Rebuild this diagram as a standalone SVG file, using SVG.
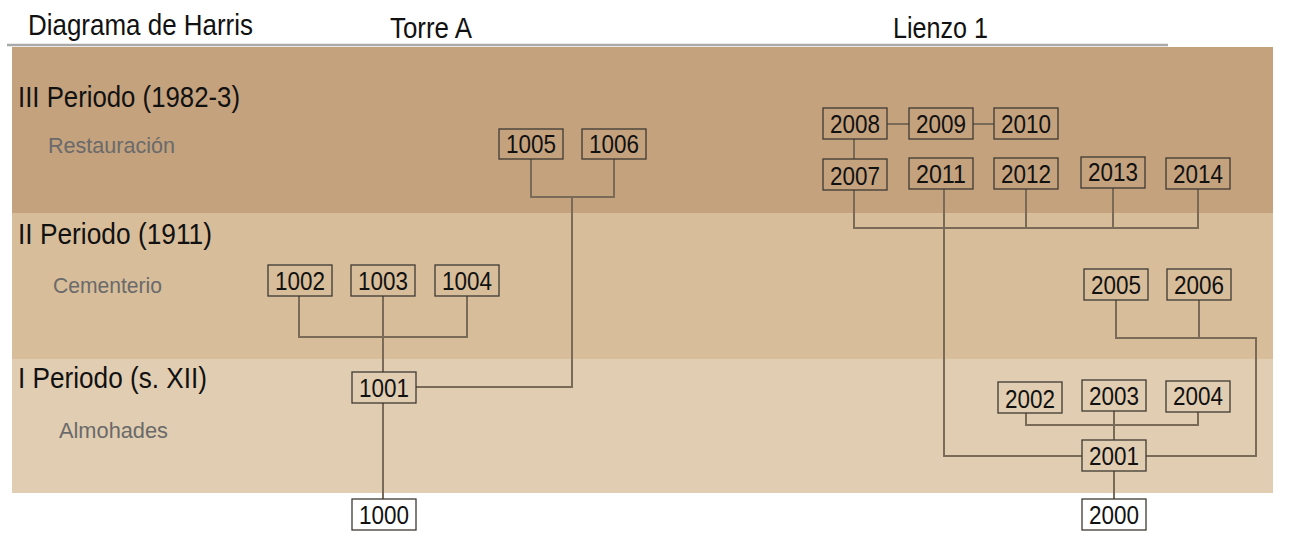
<svg xmlns="http://www.w3.org/2000/svg" width="1290" height="535" viewBox="0 0 1290 535">
<style>
.hdr{font-family:"Liberation Sans",Arial,sans-serif;font-size:29px;fill:#111}
.per{font-family:"Liberation Sans",Arial,sans-serif;font-size:29px;fill:#111}
.sub{font-family:"Liberation Sans",Arial,sans-serif;font-size:22px;fill:#6a6a6a}
.box{fill:none;stroke:#3e3a33;stroke-width:1.3}
.wbox{fill:#fff;stroke:#3e3a33;stroke-width:1.3}
.lbl{font-family:"Liberation Sans",Arial,sans-serif;font-size:26px;fill:#111;text-anchor:middle}
.con{fill:none;stroke:#7a6b58;stroke-width:2}
</style>
<rect width="1290" height="535" fill="#fff"/>
<g id="bands">
<rect x="12" y="47" width="1261" height="166" fill="#c4a27e"/>
<rect x="12" y="213" width="1261" height="146" fill="#d7bd9a"/>
<rect x="12" y="359" width="1261" height="134" fill="#e1cdb1"/>
<line x1="7" y1="45" x2="1168" y2="45" stroke="#a9a9a9" stroke-width="2.5"/>
</g>
<g id="labels">
<text class="hdr" x="28" y="35" textLength="225" lengthAdjust="spacingAndGlyphs">Diagrama de Harris</text>
<text class="hdr" x="390" y="38" textLength="82" lengthAdjust="spacingAndGlyphs">Torre A</text>
<text class="hdr" x="893" y="38" textLength="95" lengthAdjust="spacingAndGlyphs">Lienzo 1</text>
<text class="per" x="18" y="107" textLength="222" lengthAdjust="spacingAndGlyphs">III Periodo (1982-3)</text>
<text class="sub" x="48" y="153" textLength="127" lengthAdjust="spacingAndGlyphs">Restauración</text>
<text class="per" x="18" y="244" textLength="194" lengthAdjust="spacingAndGlyphs">II Periodo (1911)</text>
<text class="sub" x="53" y="293" textLength="109" lengthAdjust="spacingAndGlyphs">Cementerio</text>
<text class="per" x="18" y="388" textLength="189" lengthAdjust="spacingAndGlyphs">I Periodo (s. XII)</text>
<text class="sub" x="59" y="438" textLength="109" lengthAdjust="spacingAndGlyphs">Almohades</text>
</g>
<g id="connectors">
<polyline class="con" points="531,159 531,197 614,197 614,159"/>
<polyline class="con" points="572,197 572,387 416,387"/>
<polyline class="con" points="299,296 299,337 467,337 467,296"/>
<line class="con" x1="383" y1="296" x2="383" y2="372"/>
<line class="con" x1="383" y1="403" x2="383" y2="499"/>
<line class="con" x1="887" y1="124" x2="909" y2="124"/>
<line class="con" x1="973" y1="124" x2="994" y2="124"/>
<line class="con" x1="854" y1="139" x2="854" y2="159"/>
<polyline class="con" points="854,190 854,228 1198,228 1198,189"/>
<line class="con" x1="1026" y1="189" x2="1026" y2="228"/>
<line class="con" x1="1113" y1="188" x2="1113" y2="228"/>
<polyline class="con" points="944,189 944,456 1082,456"/>
<polyline class="con" points="1116,300 1116,338 1256,338 1256,456 1146,456"/>
<line class="con" x1="1199" y1="300" x2="1199" y2="338"/>
<polyline class="con" points="1026,413 1026,425 1198,425 1198,412"/>
<line class="con" x1="1114" y1="411" x2="1114" y2="440"/>
<line class="con" x1="1114" y1="471" x2="1114" y2="499"/>
</g>
<g id="n1005"><rect class="box" x="499" y="129" width="64" height="30"/><text class="lbl" x="531" y="153" textLength="50" lengthAdjust="spacingAndGlyphs">1005</text></g>
<g id="n1006"><rect class="box" x="582" y="129" width="64" height="30"/><text class="lbl" x="614" y="153" textLength="50" lengthAdjust="spacingAndGlyphs">1006</text></g>
<g id="n1002"><rect class="box" x="268" y="265" width="64" height="31"/><text class="lbl" x="300" y="290" textLength="50" lengthAdjust="spacingAndGlyphs">1002</text></g>
<g id="n1003"><rect class="box" x="351" y="265" width="64" height="31"/><text class="lbl" x="383" y="290" textLength="50" lengthAdjust="spacingAndGlyphs">1003</text></g>
<g id="n1004"><rect class="box" x="435" y="265" width="64" height="31"/><text class="lbl" x="467" y="290" textLength="50" lengthAdjust="spacingAndGlyphs">1004</text></g>
<g id="n1001"><rect class="box" x="352" y="372" width="64" height="31"/><text class="lbl" x="384" y="397" textLength="50" lengthAdjust="spacingAndGlyphs">1001</text></g>
<g id="n1000"><rect class="wbox" x="352" y="499" width="64" height="31"/><text class="lbl" x="384" y="524" textLength="50" lengthAdjust="spacingAndGlyphs">1000</text></g>
<g id="n2008"><rect class="box" x="823" y="108" width="64" height="31"/><text class="lbl" x="855" y="133" textLength="50" lengthAdjust="spacingAndGlyphs">2008</text></g>
<g id="n2009"><rect class="box" x="909" y="108" width="64" height="31"/><text class="lbl" x="941" y="133" textLength="50" lengthAdjust="spacingAndGlyphs">2009</text></g>
<g id="n2010"><rect class="box" x="994" y="108" width="64" height="31"/><text class="lbl" x="1026" y="133" textLength="50" lengthAdjust="spacingAndGlyphs">2010</text></g>
<g id="n2007"><rect class="box" x="823" y="159" width="64" height="31"/><text class="lbl" x="855" y="185" textLength="50" lengthAdjust="spacingAndGlyphs">2007</text></g>
<g id="n2011"><rect class="box" x="909" y="158" width="64" height="31"/><text class="lbl" x="941" y="183" textLength="50" lengthAdjust="spacingAndGlyphs">2011</text></g>
<g id="n2012"><rect class="box" x="994" y="158" width="64" height="31"/><text class="lbl" x="1026" y="183" textLength="50" lengthAdjust="spacingAndGlyphs">2012</text></g>
<g id="n2013"><rect class="box" x="1081" y="157" width="64" height="31"/><text class="lbl" x="1113" y="181" textLength="50" lengthAdjust="spacingAndGlyphs">2013</text></g>
<g id="n2014"><rect class="box" x="1166" y="158" width="64" height="31"/><text class="lbl" x="1198" y="183" textLength="50" lengthAdjust="spacingAndGlyphs">2014</text></g>
<g id="n2005"><rect class="box" x="1084" y="269" width="64" height="31"/><text class="lbl" x="1116" y="294" textLength="50" lengthAdjust="spacingAndGlyphs">2005</text></g>
<g id="n2006"><rect class="box" x="1167" y="269" width="64" height="31"/><text class="lbl" x="1199" y="294" textLength="50" lengthAdjust="spacingAndGlyphs">2006</text></g>
<g id="n2002"><rect class="box" x="998" y="382" width="64" height="31"/><text class="lbl" x="1030" y="408" textLength="50" lengthAdjust="spacingAndGlyphs">2002</text></g>
<g id="n2003"><rect class="box" x="1082" y="380" width="64" height="31"/><text class="lbl" x="1114" y="405" textLength="50" lengthAdjust="spacingAndGlyphs">2003</text></g>
<g id="n2004"><rect class="box" x="1166" y="381" width="64" height="31"/><text class="lbl" x="1198" y="405" textLength="50" lengthAdjust="spacingAndGlyphs">2004</text></g>
<g id="n2001"><rect class="box" x="1082" y="440" width="64" height="31"/><text class="lbl" x="1114" y="465" textLength="50" lengthAdjust="spacingAndGlyphs">2001</text></g>
<g id="n2000"><rect class="wbox" x="1082" y="499" width="64" height="31"/><text class="lbl" x="1114" y="524" textLength="50" lengthAdjust="spacingAndGlyphs">2000</text></g>
</svg>
